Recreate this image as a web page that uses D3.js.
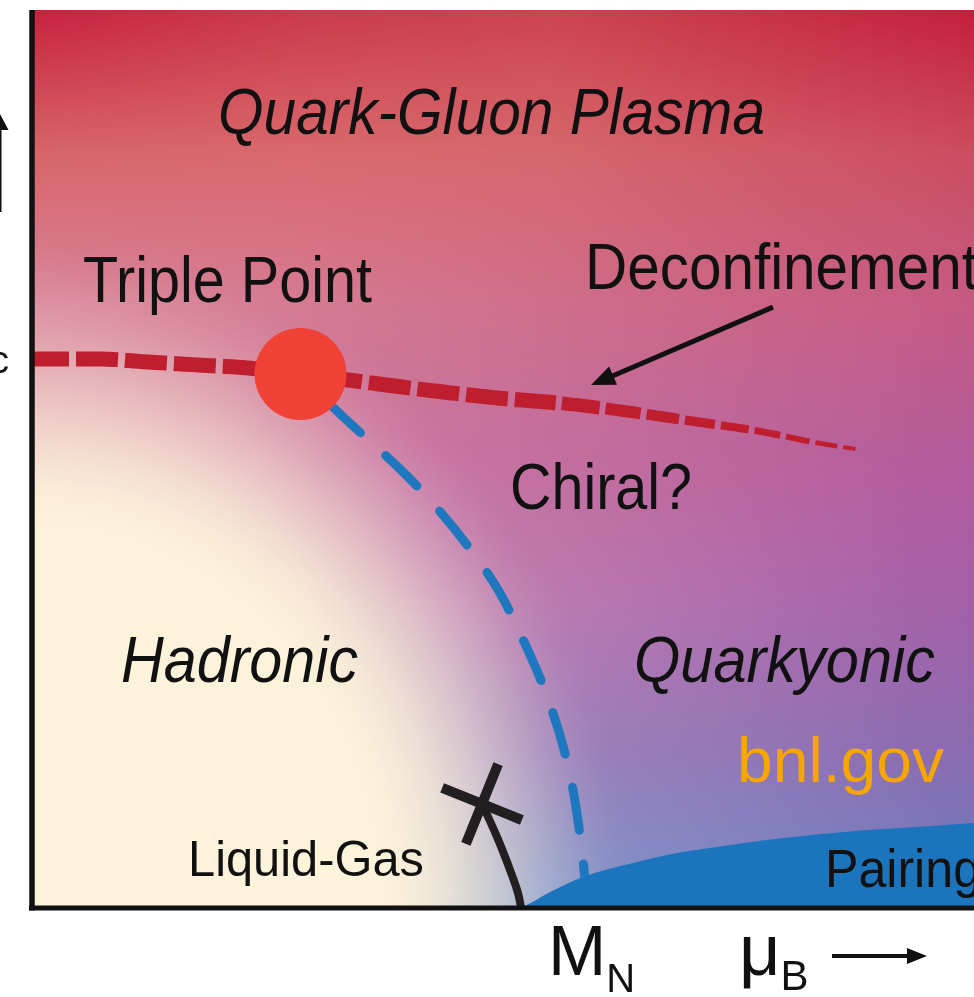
<!DOCTYPE html>
<html>
<head>
<meta charset="utf-8">
<script src="https://cdn.jsdelivr.net/npm/d3@7"></script>
<style>
  html, body { margin: 0; padding: 0; background: #fff; overflow: hidden; }
  #wrap { position: relative; width: 974px; height: 997px; }
  #wrap canvas, #wrap svg { position: absolute; left: 0; top: 0; }
  text { font-family: "Liberation Sans", Arial, Helvetica, sans-serif; fill: #111; }
</style>
</head>
<body>
<div id="wrap"></div>
<script>
// Schematic QCD phase diagram: baryon chemical potential μB vs temperature T (arbitrary units)

// Deconfinement transition line
const deconfMu = [0, 130, 230, 330, 430, 530, 630, 770, 930, 1070, 1210, 1330, 1450, 1570, 1645];
const deconfT  = [183, 183, 182, 181, 180, 178, 176, 173, 170, 168, 165, 162, 159, 155, 153];

// Chiral transition line, from the triple point down to the pairing region
const chiralMu = [535, 594, 664, 734, 808, 874, 934, 978, 1020, 1054, 1078, 1094, 1104, 1108];
const chiralT  = [178, 167.7, 157, 146.7, 133.7, 120, 106, 90.3, 75, 58.3, 42.7, 25, 10.3, 0];

// Nuclear liquid-gas line, from its critical point down to the axis
const liquidGasMu = [898, 928, 954, 970, 976];
const liquidGasT  = [34.7, 23.7, 12.7, 5, 0];

// Upper edge of the colour-superconducting (pairing) region
const pairingMu = [976, 980, 1034, 1100, 1200, 1268, 1368, 1468, 1600, 1668, 1768, 1880, 1960];
const pairingT  = [0, 0.3, 5.3, 10.3, 15, 17.7, 20.3, 22.7, 25, 26, 27, 28.3, 29.5];

const triplePoint   = { mu: 535, T: 178 };
const criticalPoint = { mu: 898, T: 34.7 };

// Annotation arrow pointing at the deconfinement line
const deconfArrowFrom = { mu: 1480, T: 200.3 };
const deconfArrowTo   = { mu: 1116, T: 174.3 };

const W = 974, H = 997;
const plot = { left: 33, right: 974, top: 10, bottom: 908 };

const x = d3.scaleLinear().domain([0, 1882]).range([plot.left, plot.right]);
const y = d3.scaleLinear().domain([0, 299.33]).range([plot.bottom, plot.top]);

const wrap = d3.select("#wrap");

// ---------- background shading (canvas) ----------
const canvas = wrap.append("canvas").attr("width", W).attr("height", H).node();
const ctx = canvas.getContext("2d");
ctx.fillStyle = "#fff";
ctx.fillRect(0, 0, W, H);

const gCols = [33, 300, 550, 974];
const gRows = [10, 150, 300, 450, 600, 750, 908];
const gCol = [
  ["#c8223f", "#cb3a4c", "#cc4450", "#c41f3c"],
  ["#d66468", "#d9686c", "#d6666c", "#cb4c5e"],
  ["#d8849a", "#d57a92", "#cf6e8a", "#c65a82"],
  ["#d488a8", "#cc7aa2", "#c46e9e", "#b45a9a"],
  ["#c890b8", "#c286b5", "#bb7ab0", "#a35ea8"],
  ["#b0a0c8", "#a890c4", "#9c80bb", "#8a6ab0"],
  ["#a8b0d0", "#9aa8d0", "#7f98cc", "#6a7ec0"]
].map(r => r.map(c => d3.rgb(c)));
const cream = d3.rgb("#fdf2da");

function seg(arr, v) {
  let i = 0;
  while (i < arr.length - 2 && v > arr[i + 1]) i++;
  const t = Math.max(0, Math.min(1, (v - arr[i]) / (arr[i + 1] - arr[i])));
  return [i, t];
}
function smooth(a, b, v) {
  const t = Math.max(0, Math.min(1, (v - a) / (b - a)));
  return t * t * (3 - 2 * t);
}

const bx0 = plot.left, bx1 = plot.right, by0 = plot.top, by1 = plot.bottom;
const img = ctx.createImageData(bx1 - bx0, by1 - by0);
const cx0 = x(0), cy0 = y(0), rx = 560, ry = 620;
for (let py = by0; py < by1; py++) {
  const [j, ty] = seg(gRows, py);
  for (let px = bx0; px < bx1; px++) {
    const [i, tx] = seg(gCols, px);
    const c00 = gCol[j][i], c01 = gCol[j][i + 1], c10 = gCol[j + 1][i], c11 = gCol[j + 1][i + 1];
    const w00 = (1 - tx) * (1 - ty), w01 = tx * (1 - ty), w10 = (1 - tx) * ty, w11 = tx * ty;
    let r = c00.r * w00 + c01.r * w01 + c10.r * w10 + c11.r * w11;
    let g = c00.g * w00 + c01.g * w01 + c10.g * w10 + c11.g * w11;
    let b = c00.b * w00 + c01.b * w01 + c10.b * w10 + c11.b * w11;
    const d = Math.hypot((px - cx0) / rx, (py - cy0) / ry);
    const a = 1 - smooth(0.6, 1.08, d);
    r = r * (1 - a) + cream.r * a;
    g = g * (1 - a) + cream.g * a;
    b = b * (1 - a) + cream.b * a;
    const k = ((py - by0) * (bx1 - bx0) + (px - bx0)) * 4;
    img.data[k] = r; img.data[k + 1] = g; img.data[k + 2] = b; img.data[k + 3] = 255;
  }
}
ctx.putImageData(img, bx0, by0);

// ---------- vector layer ----------
const svg = wrap.append("svg").attr("width", W).attr("height", H);

svg.append("clipPath").attr("id", "plotClip")
  .append("rect")
  .attr("x", plot.left).attr("y", plot.top)
  .attr("width", plot.right - plot.left).attr("height", plot.bottom - plot.top);

const marks = svg.append("g").attr("clip-path", "url(#plotClip)");

// chiral transition (blue dashed)
const chiralLine = d3.line()
  .x((d, i) => x(chiralMu[i])).y((d, i) => y(chiralT[i]))
  .curve(d3.curveBasis);
marks.append("path")
  .attr("d", chiralLine(chiralMu))
  .attr("fill", "none")
  .attr("stroke", "#1f77bf")
  .attr("stroke-width", 9)
  .attr("stroke-linecap", "round")
  .attr("stroke-dasharray", "43.5 34")
  .attr("stroke-dashoffset", 37);

// pairing region
const pairingArea = d3.area()
  .x((d, i) => x(pairingMu[i]))
  .y0(y(0))
  .y1((d, i) => y(pairingT[i]))
  .curve(d3.curveMonotoneX);
marks.append("path")
  .attr("d", pairingArea(pairingMu))
  .attr("fill", "#1c75bc");

// deconfinement line: tapering dashes
const deconfLine = d3.line()
  .x((d, i) => x(deconfMu[i])).y((d, i) => y(deconfT[i]))
  .curve(d3.curveMonotoneX);
const guide = marks.append("path").attr("d", deconfLine(deconfMu)).attr("fill", "none");
const gNode = guide.node();
const total = gNode.getTotalLength();
const dashWidth = px => px < 540 ? 15 : Math.max(3, 15 - 11 * (px - 540) / 310);
const dashLen = px => px < 500 ? 42 : Math.max(18, 42 - 22 * (px - 500) / 350);
const dashGap = px => px < 500 ? 7 : 6;
const dashes = [];
let s = -6;
while (s < total) {
  const start = Math.max(0, s);
  const p0 = gNode.getPointAtLength(start);
  const len = dashLen(p0.x);
  const end = Math.min(total, s + len);
  const pts = [];
  for (let t = start; t < end; t += 2) {
    const p = gNode.getPointAtLength(t);
    pts.push([p.x, p.y]);
  }
  const pe = gNode.getPointAtLength(end);
  pts.push([pe.x, pe.y]);
  dashes.push({ pts, w: dashWidth((p0.x + pe.x) / 2) });
  s = s + len + dashGap(p0.x);
}
guide.remove();
marks.append("g").selectAll("path").data(dashes).join("path")
  .attr("d", d => d3.line()(d.pts))
  .attr("fill", "none")
  .attr("stroke", "#be1e2d")
  .attr("stroke-width", d => d.w)
  .attr("stroke-linecap", "butt");

// triple point
marks.append("circle")
  .attr("cx", x(triplePoint.mu)).attr("cy", y(triplePoint.T))
  .attr("r", 46)
  .attr("fill", "#ef4136");

// liquid-gas line and its critical point
const lgLine = d3.line()
  .x((d, i) => x(liquidGasMu[i])).y((d, i) => y(liquidGasT[i]))
  .curve(d3.curveCatmullRom.alpha(0.5));
marks.append("path")
  .attr("d", lgLine(liquidGasMu))
  .attr("fill", "none")
  .attr("stroke", "#231f20")
  .attr("stroke-width", 8);

const cross = marks.append("g")
  .attr("transform", `translate(${x(criticalPoint.mu)},${y(criticalPoint.T)}) rotate(22)`);
cross.append("line").attr("x1", -43).attr("x2", 43).attr("y1", 0).attr("y2", 0);
cross.append("line").attr("x1", 0).attr("x2", 0).attr("y1", -43).attr("y2", 43);
cross.selectAll("line").attr("stroke", "#231f20").attr("stroke-width", 10);

// arrow helper: shaft plus filled head
function arrow(g, x1, y1, x2, y2, width, headLen, headHalf) {
  const ang = Math.atan2(y2 - y1, x2 - x1);
  const bx = x2 - headLen * Math.cos(ang), by = y2 - headLen * Math.sin(ang);
  g.append("line")
    .attr("x1", x1).attr("y1", y1).attr("x2", bx + Math.cos(ang) * 2).attr("y2", by + Math.sin(ang) * 2)
    .attr("stroke", "#111").attr("stroke-width", width);
  const nx = -Math.sin(ang), ny = Math.cos(ang);
  g.append("path")
    .attr("d", `M${x2},${y2}L${bx + nx * headHalf},${by + ny * headHalf}L${bx - nx * headHalf},${by - ny * headHalf}Z`)
    .attr("fill", "#111");
}

arrow(svg, x(deconfArrowFrom.mu), y(deconfArrowFrom.T), x(deconfArrowTo.mu), y(deconfArrowTo.T), 5, 24, 10);

// ---------- labels ----------
function label(txt, px, py, size, len, opts = {}) {
  const t = svg.append("text")
    .attr("x", px).attr("y", py)
    .attr("font-size", size)
    .text(txt);
  if (len) t.attr("textLength", len).attr("lengthAdjust", "spacingAndGlyphs");
  if (opts.italic) t.attr("font-style", "italic");
  if (opts.fill) t.style("fill", opts.fill);
  return t;
}
label("Quark-Gluon Plasma", 218, 134, 64, 547, { italic: true });
label("Triple Point", 83, 302, 64, 289);
label("Deconfinement", 585, 289, 64, 393);
label("Chiral?", 510, 509, 64, 182);
label("Hadronic", 121, 682, 64, 237, { italic: true });
label("Quarkyonic", 634, 682, 64, 301, { italic: true });
label("bnl.gov", 737, 782, 63, 207, { fill: "#f7a600" });
label("Liquid-Gas", 188, 876, 50, 236);
label("Pairing", 825, 887, 54, 156);

// ---------- axes ----------
const axisB = d3.axisBottom(x).tickValues([]).tickSizeOuter(0);
const axisL = d3.axisLeft(y).tickValues([]).tickSizeOuter(0);
const gB = svg.append("g").attr("transform", `translate(0,${plot.bottom})`).call(axisB);
gB.select(".domain").attr("d", `M${plot.left - 4},0H${plot.right}`).attr("stroke", "#111").attr("stroke-width", 5);
const gL = svg.append("g").attr("transform", `translate(${plot.left - 1},0)`).call(axisL);
gL.select(".domain").attr("d", `M0,${plot.bottom + 2.5}V${plot.top}`).attr("stroke", "#111").attr("stroke-width", 5.5);

// μB axis title with arrow, nucleon mass mark
const mn = svg.append("text").attr("x", 548).attr("y", 975).attr("font-size", 70);
mn.append("tspan").text("M");
mn.append("tspan").attr("font-size", 40).attr("dy", 17).text("N");

const mu = svg.append("text").attr("x", 739).attr("y", 975).attr("font-size", 72);
mu.append("tspan").text("μ");
mu.append("tspan").attr("font-size", 42).attr("dy", 15).text("B");
arrow(svg, 832, 956, 927, 956, 4, 20, 8);

// T axis title (mostly beyond the left edge) with arrow, and T_c mark
const tt = svg.append("text").attr("x", -14).attr("y", 185).attr("font-size", 70).attr("text-anchor", "end");
tt.text("T");
arrow(svg, -0.5, 212, -0.5, 113, 4, 17, 9);
const tc = svg.append("text").attr("x", 9).attr("y", 373).attr("font-size", 70).attr("text-anchor", "end");
tc.append("tspan").text("T");
tc.append("tspan").attr("font-size", 38).attr("dy", 0).text("c");
</script>
</body>
</html>
